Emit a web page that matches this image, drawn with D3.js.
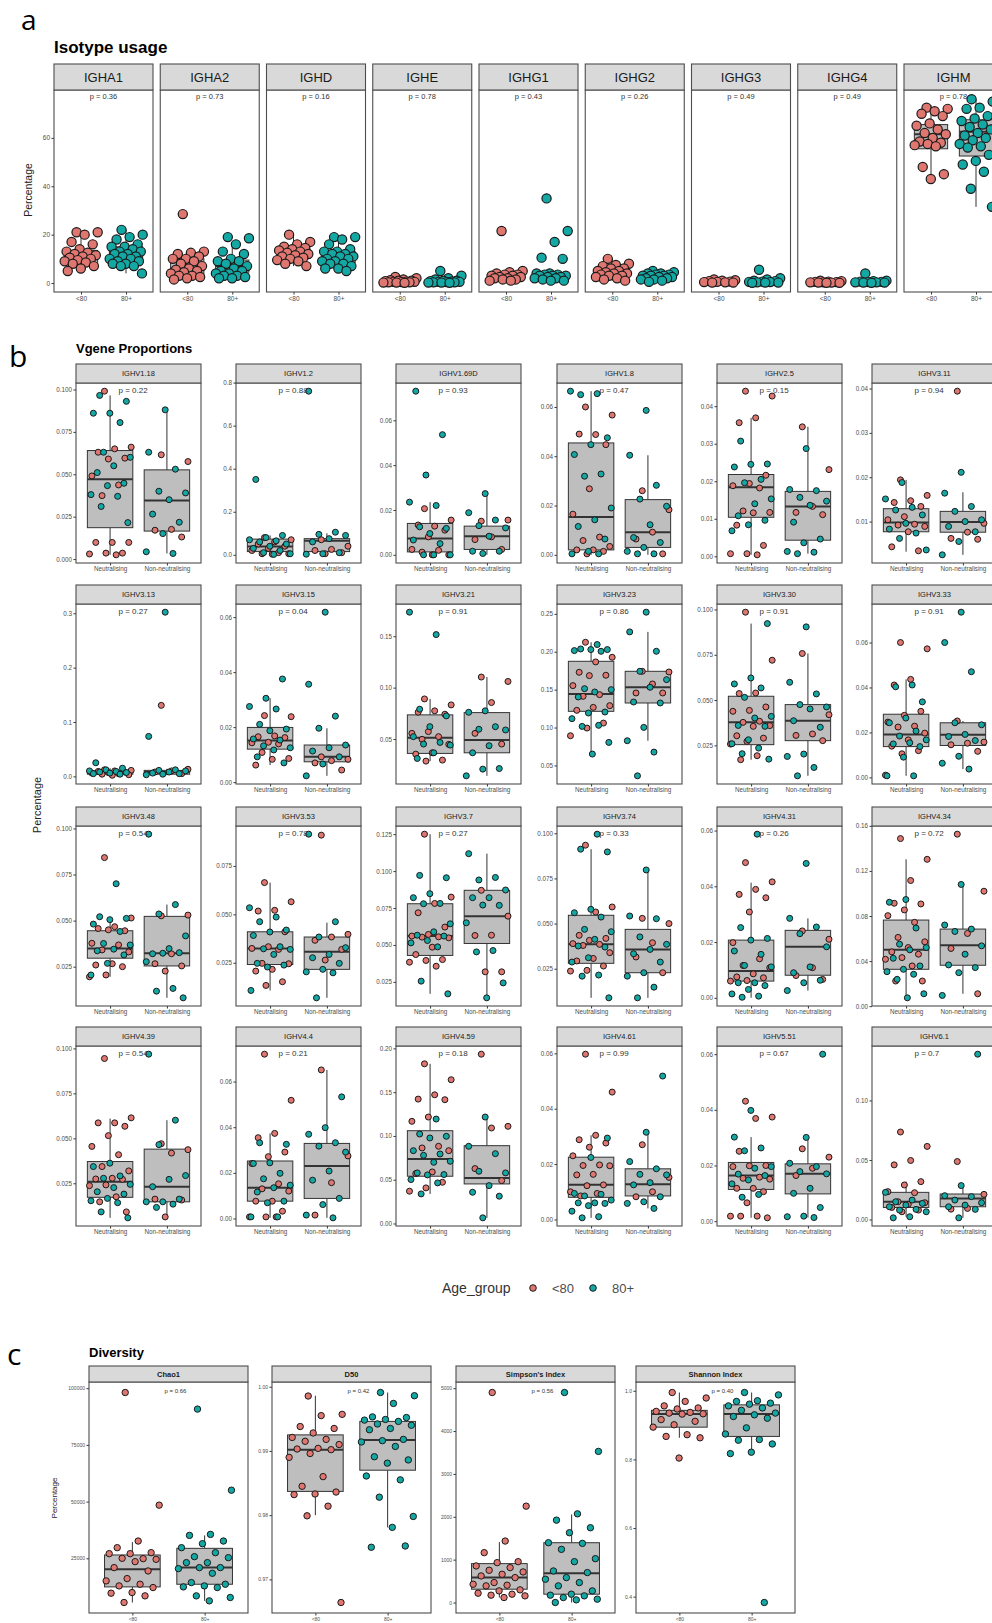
<!DOCTYPE html>
<html>
<head>
<meta charset="utf-8">
<script src="https://cdn.jsdelivr.net/npm/d3@7"></script>
<style>
body { margin: 0; background: #fff; }
svg { display: block; font-family: "Liberation Sans", Arial, sans-serif; }
</style>
</head>
<body>
<div id="chart"></div>
<script>
// ---------- a: isotype usage ----------
const isotypes = ["IGHA1", "IGHA2", "IGHD", "IGHE", "IGHG1", "IGHG2", "IGHG3", "IGHG4", "IGHM"];
const isoP = ["0.36", "0.73", "0.16", "0.78", "0.43", "0.26", "0.49", "0.49", "0.78"];
const isoTicks = ["0", "20", "40", "60"];
const isoYoung = [
    [21, 21, 20, 17, 16, 14, 13, 12.5, 12, 11.5, 11, 10.5, 10, 9.5, 9, 8.5, 8, 7, 6, 5],
    [28.5, 13, 12.5, 12, 11, 10, 10, 9, 8, 7, 6, 5.5, 5, 4.5, 4, 3, 3, 2.5, 2, 1.5],
    [20, 17, 16, 15, 14.5, 14, 13.5, 13, 12.5, 12, 11.5, 11, 10.5, 10, 9.5, 9, 8, 7],
    [2.5, 2, 1.5, 1.2, 1, 1, 0.8, 0.6, 0.5, 0.5, 0.4, 0.3, 0.3, 0.2, 0.2, 0.1],
    [21.5, 5, 4.5, 4, 3.5, 3.5, 3, 3, 2.5, 2.5, 2, 2, 1.5, 1.5, 1, 1],
    [10, 8, 7.5, 7, 6, 6, 5, 5, 4.5, 4, 4, 3.5, 3, 3, 2.5, 2, 1.5, 1],
    [1.5, 1.2, 1, 0.8, 0.6, 0.5, 0.4, 0.3, 0.2, 0.2],
    [1, 0.8, 0.6, 0.5, 0.4, 0.3, 0.3, 0.2, 0.2, 0.1, 0.1],
    [72.5, 72, 71, 70, 69, 66, 65, 63.5, 62, 61.5, 60, 58.5, 58, 57.5, 57, 56.5, 48, 45, 43]
];
const isoOld = [
    [22, 20, 19, 18, 16, 15, 15, 14, 13, 13, 12, 12, 11, 11, 10, 10, 9, 9, 8, 8, 7, 7, 4],
    [19, 18.5, 16, 13, 12, 10, 9, 9, 8, 7, 6, 5, 5, 4, 4, 3, 3, 2.5, 2, 2],
    [19, 19, 18, 16, 14, 13, 13, 12, 12, 11, 11, 10, 10, 9, 9, 8, 8, 7, 6, 6, 5],
    [5, 3, 2, 1.5, 1, 1, 0.8, 0.6, 0.5, 0.5, 0.4, 0.3, 0.3, 0.2, 0.2, 0.1],
    [35, 21.5, 17, 10.5, 10, 4, 4, 3.5, 3.5, 3, 3, 3, 2.5, 2.5, 2, 2, 1.5, 1, 1],
    [5, 4.5, 4, 4, 3.5, 3.5, 3, 3, 3, 2.5, 2.5, 2, 2, 1.5, 1.5, 1, 0.5],
    [5.5, 2, 1.5, 1, 0.8, 0.6, 0.5, 0.4, 0.3, 0.2, 0.2, 0.1],
    [4, 1, 0.8, 0.6, 0.5, 0.4, 0.3, 0.3, 0.2, 0.2, 0.1],
    [76, 75, 72.5, 72, 69, 68, 67, 65.5, 64.5, 63.5, 62, 61, 60, 59, 57.5, 56.5, 56, 53, 50.5, 49, 46, 39, 31.5]
];
// box stats: [lower whisker, q1, median, q3, upper whisker]
const isoBoxYoung = [
    [4.5, 8, 11, 13.5, 21], [1.3, 4, 6, 10, 13.5], [7, 10.5, 12.5, 14, 20], [0.1, 0.3, 0.6, 1.2, 2.5],
    [1, 1.5, 2.5, 3.5, 5], [1, 2.5, 4, 6.5, 10], [0.2, 0.3, 0.5, 0.9, 1.5], [0.1, 0.2, 0.3, 0.6, 1],
    [45, 55.5, 61.5, 65.5, 73.5]
];
const isoBoxOld = [
    [4, 8.5, 11.5, 15, 22], [2, 4.5, 7, 9.5, 16], [5, 8.5, 11, 13, 19], [0.1, 0.3, 0.5, 1, 2],
    [1, 2, 2.8, 3.8, 5], [0.5, 1.5, 2.8, 3.8, 5], [0.1, 0.3, 0.5, 1, 2], [0.1, 0.2, 0.35, 0.6, 1],
    [31.5, 52.5, 62.5, 67.5, 76]
];

// ---------- b: V gene proportions ----------
const vgenes = ["IGHV1.18", "IGHV1.2", "IGHV1.69D", "IGHV1.8", "IGHV2.5", "IGHV3.11",
    "IGHV3.13", "IGHV3.15", "IGHV3.21", "IGHV3.23", "IGHV3.30", "IGHV3.33",
    "IGHV3.48", "IGHV3.53", "IGHV3.7", "IGHV3.74", "IGHV4.31", "IGHV4.34",
    "IGHV4.39", "IGHV4.4", "IGHV4.59", "IGHV4.61", "IGHV5.51", "IGHV6.1"];
const vgeneP = ["0.22", "0.88", "0.93", "0.47", "0.15", "0.94",
    "0.27", "0.04", "0.91", "0.86", "0.91", "0.91",
    "0.54", "0.78", "0.27", "0.33", "0.26", "0.72",
    "0.54", "0.21", "0.18", "0.99", "0.67", "0.7"];
const vgeneTicks = [
    ["0.000", "0.025", "0.050", "0.075", "0.100"], ["0.0", "0.2", "0.4", "0.6", "0.8"],
    ["0.00", "0.02", "0.04", "0.06"], ["0.00", "0.02", "0.04", "0.06"],
    ["0.00", "0.01", "0.02", "0.03", "0.04"], ["0.01", "0.02", "0.03", "0.04"],
    ["0.0", "0.1", "0.2", "0.3"], ["0.00", "0.02", "0.04", "0.06"],
    ["0.05", "0.10", "0.15"], ["0.05", "0.10", "0.15", "0.20", "0.25"],
    ["0.025", "0.050", "0.075", "0.100"], ["0.00", "0.02", "0.04", "0.06"],
    ["0.025", "0.050", "0.075", "0.100"], ["0.025", "0.050", "0.075"],
    ["0.025", "0.050", "0.075", "0.100", "0.125"], ["0.025", "0.050", "0.075", "0.100"],
    ["0.00", "0.02", "0.04", "0.06"], ["0.00", "0.04", "0.08", "0.12", "0.16"],
    ["0.025", "0.050", "0.075", "0.100"], ["0.00", "0.02", "0.04", "0.06"],
    ["0.00", "0.05", "0.10", "0.15", "0.20"], ["0.00", "0.02", "0.04", "0.06"],
    ["0.00", "0.02", "0.04", "0.06"], ["0.00", "0.05", "0.10"]
];
const neutYoung = [
    [0.099, 0.066, 0.065, 0.063, 0.0595, 0.059, 0.049, 0.0437, 0.0374, 0.0098, 0.0098, 0.0098, 0.0035, 0.0035, 0.003, 0.0025],
    [0.08, 0.07, 0.06, 0.05, 0.04, 0.03, 0.02, 0.01, 0.005, 0.005, 0.003],
    [0.0206, 0.0155, 0.0128, 0.0133, 0.011, 0.008, 0.0024, 0.002, 0.0012, 0, 0],
    [0.060, 0.0567, 0.0488, 0.049, 0.0447, 0.0268, 0.0165, 0.0072, 0.0058, 0.0034, 0.002, 0.002, 0.0014, 0.0004],
    [0.044, 0.0427, 0.0369, 0.0356, 0.0216, 0.0194, 0.0188, 0.0182, 0.0121, 0.0117, 0.0116, 0.0083, 0.0029, 0.0007, 0.0007, 0.0004],
    [0.0194, 0.0159, 0.0147, 0.0143, 0.0134, 0.0111, 0.0104, 0.0094, 0.0092, 0.0089, 0.0077, 0.0043, 0.0034],
    [0.012, 0.011, 0.01, 0.009, 0.008, 0.007, 0.006, 0.005, 0.004, 0.003, 0.002],
    [0.0242, 0.0238, 0.0168, 0.0165, 0.0162, 0.0145, 0.0143, 0.0139, 0.0108, 0.0086, 0.0083, 0.0062],
    [0.089, 0.0832, 0.0774, 0.0761, 0.0741, 0.0572, 0.0555, 0.0523, 0.0497, 0.0448, 0.0366, 0.0353, 0.0295, 0.0285],
    [0.2125, 0.1927, 0.1866, 0.1729, 0.169, 0.1685, 0.1553, 0.1434, 0.1412, 0.1289, 0.1266, 0.1227, 0.1059, 0.0993, 0.0892],
    [0.0985, 0.072, 0.0539, 0.0536, 0.0462, 0.0443, 0.0438, 0.0383, 0.0377, 0.0359, 0.0355, 0.0303, 0.029, 0.0272, 0.0257, 0.0193, 0.0171],
    [0.06, 0.0572, 0.0436, 0.0411, 0.0294, 0.0276, 0.0246, 0.0228, 0.0224, 0.0197, 0.0167, 0.0139, 0.0119, 0.0105, 0.001],
    [0.0842, 0.0514, 0.0467, 0.0457, 0.0445, 0.045, 0.0377, 0.0368, 0.0341, 0.033, 0.0266, 0.0259, 0.025, 0.0205, 0.0195],
    [0.0664, 0.0565, 0.0521, 0.0517, 0.041, 0.0333, 0.0324, 0.0319, 0.0247, 0.0245, 0.0216, 0.0207, 0.0152, 0.0133],
    [0.125, 0.0824, 0.0781, 0.0718, 0.0621, 0.0571, 0.056, 0.0555, 0.0553, 0.0548, 0.0485, 0.0435, 0.0401, 0.0395, 0.0383, 0.0356],
    [0.0934, 0.0592, 0.0564, 0.0435, 0.0418, 0.0407, 0.0389, 0.0385, 0.0379, 0.0339, 0.0307, 0.0293, 0.0265, 0.0241, 0.0237],
    [0.0485, 0.0416, 0.0389, 0.0371, 0.0359, 0.0308, 0.0198, 0.014, 0.0116, 0.0108, 0.0086, 0.0075, 0.0072, 0.0062, 0.006],
    [0.1487, 0.1303, 0.1115, 0.0913, 0.0907, 0.0854, 0.0803, 0.0744, 0.061, 0.0571, 0.052, 0.0482, 0.0461, 0.0431, 0.0416, 0.0357, 0.0223, 0.0223],
    [0.0944, 0.0614, 0.0586, 0.0586, 0.0567, 0.0515, 0.0455, 0.0409, 0.0343, 0.0319, 0.0278, 0.0274, 0.0272, 0.0241, 0.0237, 0.0175, 0.0147, 0.0091],
    [0.072, 0.0518, 0.0373, 0.0354, 0.0291, 0.0271, 0.0241, 0.0152, 0.013, 0.012, 0.0076, 0.0076, 0.0032, 0.0007, 0.0007, 0.0007],
    [0.1824, 0.1642, 0.147, 0.1421, 0.1414, 0.1216, 0.1167, 0.0882, 0.0863, 0.0832, 0.0589, 0.057, 0.0471, 0.0407, 0.0369],
    [0.0597, 0.046, 0.0304, 0.0288, 0.0276, 0.0261, 0.023, 0.0197, 0.0195, 0.0194, 0.0163, 0.0161, 0.0125, 0.0122, 0.01, 0.0094, 0.0085],
    [0.0431, 0.0374, 0.0369, 0.0251, 0.02, 0.0199, 0.0196, 0.0158, 0.0154, 0.0151, 0.0118, 0.0118, 0.0106, 0.0066, 0.0018, 0.0018, 0.0018, 0.0012],
    [0.0735, 0.0614, 0.0496, 0.0459, 0.0318, 0.029, 0.0234, 0.0225, 0.0149, 0.0141, 0.0127, 0.0101, 0.0079, 0.0065]
];
const neutOld = [
    [0.0965, 0.093, 0.086, 0.086, 0.0805, 0.063, 0.060, 0.055, 0.051, 0.0447, 0.0433, 0.038, 0.037, 0.031, 0.0215],
    [0.35, 0.09, 0.08, 0.07, 0.065, 0.06, 0.05, 0.04, 0.03, 0.02, 0.01, 0.005, 0.002],
    [0.073, 0.0536, 0.0356, 0.0235, 0.022, 0.0125, 0.0118, 0.0095, 0.0066, 0.005, 0, 0, 0],
    [0.0664, 0.0654, 0.065, 0.0475, 0.0447, 0.0407, 0.0328, 0.0319, 0.019, 0.0142, 0.0115, 0.0064, 0.0014, 0.0004, 0.0004],
    [0.0307, 0.0246, 0.0245, 0.0238, 0.0205, 0.0196, 0.0153, 0.014, 0.0108, 0.0096, 0.0084, 0.0068],
    [0.0188, 0.0151, 0.0132, 0.0126, 0.0115, 0.0096, 0.0083, 0.0074, 0.0062, 0.0036],
    [0.025, 0.015, 0.012, 0.01, 0.009, 0.008, 0.007, 0.006, 0.005, 0.004],
    [0.0375, 0.0305, 0.0275, 0.0266, 0.021, 0.0193, 0.0187, 0.0157, 0.0153, 0.0132, 0.0125, 0.0117, 0.0092, 0.007],
    [0.1734, 0.1516, 0.079, 0.0725, 0.062, 0.0523, 0.0467, 0.0451, 0.0441, 0.0366, 0.0311],
    [0.2095, 0.2037, 0.2029, 0.2029, 0.2015, 0.2006, 0.1513, 0.15, 0.1469, 0.1403, 0.1205, 0.1192, 0.1117, 0.1029, 0.1015, 0.0804, 0.065],
    [0.0922, 0.0622, 0.0589, 0.0567, 0.0515, 0.041, 0.0401, 0.036, 0.0355, 0.0281, 0.0259, 0.0235, 0.0204, 0.0174],
    [0.0411, 0.0403, 0.0336, 0.0264, 0.0243, 0.0206, 0.0184, 0.0167, 0.0154, 0.0149, 0.0137, 0.009, 0.0007, 0.0007],
    [0.07, 0.0521, 0.0512, 0.0505, 0.0481, 0.0441, 0.0376, 0.0368, 0.0345, 0.0336, 0.0314, 0.0268, 0.0205],
    [0.0534, 0.0486, 0.0462, 0.0419, 0.0409, 0.0391, 0.0333, 0.0322, 0.0319, 0.0293, 0.0247, 0.0238, 0.0228, 0.0107],
    [0.0971, 0.0955, 0.0847, 0.082, 0.0781, 0.0779, 0.0643, 0.0589, 0.0566, 0.056, 0.053, 0.0514, 0.0487, 0.0255, 0.0169],
    [0.0995, 0.0912, 0.0897, 0.0579, 0.056, 0.0536, 0.0468, 0.0455, 0.0413, 0.0376, 0.037, 0.0311, 0.0287, 0.0215, 0.0209, 0.0089],
    [0.0587, 0.0252, 0.0213, 0.0207, 0.0168, 0.0156, 0.0116, 0.0111, 0.0054, 0.0054, 0.0044, 0.003, 0.0014, 0.0006, 0.0002],
    [0.0946, 0.0922, 0.0693, 0.055, 0.052, 0.05, 0.0425, 0.0357, 0.0327, 0.0306, 0.0283, 0.0238, 0.011, 0.0074],
    [0.0362, 0.0343, 0.0291, 0.0278, 0.0244, 0.0226, 0.0203, 0.019, 0.0166, 0.0153, 0.0142, 0.0091, 0.0058],
    [0.0332, 0.0325, 0.0244, 0.0241, 0.0198, 0.0174, 0.0146, 0.0135, 0.0116, 0.0076, 0.0069, 0.0007, 0.0007],
    [0.1193, 0.1022, 0.0996, 0.0977, 0.0832, 0.0794, 0.0779, 0.0711, 0.0699, 0.0578, 0.0559, 0.0555, 0.0502, 0.0464, 0.0338],
    [0.0294, 0.0224, 0.0094, 0.0091, 0.0085, 0.007, 0.006, 0.006, 0.0058, 0.005, 0.003, 0.001, 0.0006],
    [0.0398, 0.0302, 0.0263, 0.0253, 0.0196, 0.019, 0.0169, 0.0164, 0.0148, 0.0134, 0.0096, 0.0086],
    [0.0228, 0.0163, 0.0149, 0.0135, 0.0121, 0.0107, 0.0085, 0.0079, 0.0065, 0.0023, 0.0014]
];
const nonYoung = [
    [0.0615, 0.0575, 0.0175, 0.017, 0.013],
    [0.07, 0.04, 0.025, 0.02, 0.01, 0.005],
    [0.015, 0.0155, 0.008, 0.0068, 0.0024],
    [0.026, 0.0183, 0.0092, 0.0064, 0.0004],
    [0.0345, 0.0231, 0.0133, 0.0117, 0.0111],
    [0.0394, 0.0096, 0.0076, 0.0062, 0.006],
    [0.1306, 0.013, 0.01, 0.008, 0.005],
    [0.0092, 0.0083, 0.0078, 0.007, 0.0044],
    [0.1103, 0.106, 0.0855, 0.0555, 0.0451],
    [0.1742, 0.1733, 0.1575, 0.1456, 0.1456],
    [0.0757, 0.0419, 0.0313, 0.0305, 0.0276],
    [0.0251, 0.0157, 0.0152, 0.0145, 0.0116],
    [0.0526, 0.053, 0.032, 0.0266, 0.0254, 0.0226],
    [0.0909, 0.0397, 0.0383, 0.0366, 0.0319, 0.0264],
    [0.087, 0.0695, 0.0566, 0.0564, 0.0318, 0.0318],
    [0.0529, 0.05, 0.0394, 0.0315, 0.0228],
    [0.024, 0.021, 0.0108, 0.008, 0.0066],
    [0.1526, 0.102, 0.0645, 0.0512, 0.011],
    [0.047, 0.0437, 0.0418, 0.0162, 0.0157, 0.0063],
    [0.0651, 0.0274, 0.0157, 0.0015],
    [0.1934, 0.111, 0.1091, 0.0627, 0.049],
    [0.027, 0.0152, 0.01, 0.0082],
    [0.026, 0.023, 0.019, 0.0164],
    [0.0487, 0.0211, 0.0093, 0.0087]
];
const nonOld = [
    [0.088, 0.063, 0.053, 0.040, 0.039, 0.035, 0.0265, 0.0217, 0.015, 0.0043, 0.0033],
    [0.76, 0.105, 0.095, 0.09, 0.075, 0.06, 0.01, 0.005, 0.003],
    [0.0273, 0.0188, 0.0155, 0.013, 0.012, 0.0083, 0.0016, 0.0016, 0.0006],
    [0.0586, 0.0404, 0.0282, 0.0226, 0.0197, 0.0122, 0.007, 0.005, 0.003, 0.0014, 0.0004, 0.0004],
    [0.0287, 0.0178, 0.0175, 0.0157, 0.0147, 0.0136, 0.0091, 0.0046, 0.0036, 0.0013, 0.0011, 0.0007],
    [0.0211, 0.0164, 0.0134, 0.0123, 0.0104, 0.01, 0.0089, 0.0077, 0.0055, 0.0025],
    [0.302, 0.0735, 0.012, 0.011, 0.01, 0.008, 0.006, 0.005, 0.004, 0.003],
    [0.0618, 0.0356, 0.024, 0.0196, 0.0135, 0.0125, 0.0113, 0.0092, 0.0066, 0.0023],
    [0.0774, 0.076, 0.062, 0.0595, 0.0588, 0.0435, 0.0366, 0.0213, 0.0207, 0.0142],
    [0.2522, 0.2262, 0.2006, 0.1742, 0.1632, 0.1531, 0.1337, 0.1324, 0.1002, 0.0826, 0.0676, 0.0363],
    [0.0904, 0.0598, 0.0534, 0.0475, 0.0462, 0.0451, 0.0386, 0.035, 0.0202, 0.0189, 0.0128, 0.0082],
    [0.0735, 0.06, 0.047, 0.0243, 0.0234, 0.0191, 0.0182, 0.0164, 0.0094, 0.0063, 0.0037],
    [0.0969, 0.0587, 0.0536, 0.0417, 0.0348, 0.032, 0.0326, 0.0323, 0.0277, 0.0132, 0.0117, 0.0081],
    [0.0914, 0.0462, 0.0383, 0.0328, 0.0293, 0.0276, 0.0247, 0.0216, 0.0203, 0.0198, 0.0069],
    [0.1118, 0.0957, 0.094, 0.0872, 0.082, 0.082, 0.0768, 0.077, 0.065, 0.0462, 0.0453, 0.0243, 0.0142],
    [0.0797, 0.0542, 0.0527, 0.0426, 0.0385, 0.0357, 0.0333, 0.0287, 0.0228, 0.0209, 0.0148, 0.0089],
    [0.0482, 0.0285, 0.0254, 0.023, 0.0183, 0.0111, 0.009, 0.0063, 0.0054, 0.0026],
    [0.108, 0.072, 0.0684, 0.0663, 0.0535, 0.0461, 0.0366, 0.0342, 0.0297, 0.0095],
    [0.0968, 0.0601, 0.0465, 0.0293, 0.0272, 0.0231, 0.0162, 0.0147, 0.0147, 0.0134, 0.0116],
    [0.0533, 0.0398, 0.0369, 0.0332, 0.0317, 0.0291, 0.0208, 0.0168, 0.0088, 0.0061, 0.0015, 0.0003],
    [0.1216, 0.0882, 0.0798, 0.0597, 0.0578, 0.0433, 0.0357, 0.0312, 0.0065],
    [0.0518, 0.0315, 0.0209, 0.0183, 0.0163, 0.0161, 0.0133, 0.0125, 0.0082, 0.0064, 0.0058, 0.004],
    [0.06, 0.0301, 0.0208, 0.0196, 0.0178, 0.017, 0.0118, 0.01, 0.0049, 0.0018, 0.0016, 0.0013],
    [0.1389, 0.0285, 0.02, 0.0192, 0.0163, 0.0141, 0.0121, 0.0107, 0.0085, 0.0014]
];
const neutBox = [
    [0.0025, 0.0185, 0.047, 0.064, 0.0965], [0, 0.015, 0.039, 0.073, 0.09], [0, 0.0013, 0.0073, 0.014, 0.0235],
    [0, 0.002, 0.0153, 0.0454, 0.0664], [0.0004, 0.0104, 0.0184, 0.0218, 0.0369], [0.0032, 0.0077, 0.0098, 0.0129, 0.0194],
    [0.001, 0.004, 0.007, 0.01, 0.015], [0.0062, 0.012, 0.0151, 0.0199, 0.0305], [0.0285, 0.036, 0.0513, 0.0735, 0.089],
    [0.065, 0.1214, 0.1443, 0.1874, 0.2125], [0.0171, 0.0254, 0.0377, 0.0521, 0.0922], [0.0007, 0.0137, 0.0191, 0.0281, 0.0436],
    [0.0195, 0.0296, 0.0348, 0.0445, 0.0518], [0.0107, 0.0241, 0.0324, 0.041, 0.0664], [0.0169, 0.0429, 0.056, 0.0779, 0.125],
    [0.0089, 0.028, 0.0385, 0.0546, 0.0912], [0, 0.006, 0.0096, 0.0207, 0.0413], [0.0074, 0.0327, 0.05, 0.0764, 0.1303],
    [0.0058, 0.0172, 0.0259, 0.0371, 0.061], [0.0003, 0.0076, 0.0135, 0.0252, 0.0373], [0.0338, 0.054, 0.0737, 0.106, 0.1824],
    [0.0006, 0.008, 0.0125, 0.0225, 0.0304], [0.0012, 0.0114, 0.0164, 0.0211, 0.0302], [0.0023, 0.0101, 0.0149, 0.0228, 0.0318]
];
const nonBox = [
    [0.0033, 0.0165, 0.0345, 0.0526, 0.088], [0, 0.015, 0.065, 0.075, 0.1], [0, 0.0024, 0.0083, 0.0128, 0.0273],
    [0, 0.003, 0.0092, 0.0224, 0.0404], [0.0007, 0.0043, 0.0133, 0.0173, 0.0345], [0.0025, 0.0076, 0.0099, 0.0123, 0.0166],
    [0.002, 0.004, 0.008, 0.011, 0.014], [0.0023, 0.0074, 0.0092, 0.0135, 0.0196], [0.0142, 0.0366, 0.049, 0.0757, 0.1103],
    [0.0826, 0.1324, 0.1531, 0.1742, 0.2262], [0.0082, 0.0276, 0.0386, 0.0475, 0.0757], [0.0037, 0.0142, 0.019, 0.0243, 0.0251],
    [0.0081, 0.0254, 0.0323, 0.0523, 0.0587], [0.0069, 0.0216, 0.0307, 0.0383, 0.0457], [0.0142, 0.051, 0.0695, 0.087, 0.1118],
    [0.0089, 0.0228, 0.0357, 0.0468, 0.0797], [0.0026, 0.0081, 0.0183, 0.0242, 0.0285], [0.011, 0.0363, 0.0541, 0.0684, 0.108],
    [0.0063, 0.0147, 0.0231, 0.044, 0.0601], [0.0003, 0.0088, 0.023, 0.0329, 0.0651], [0.0065, 0.0452, 0.0521, 0.0889, 0.1216],
    [0.004, 0.0085, 0.0127, 0.0183, 0.0315], [0.0013, 0.0098, 0.017, 0.0206, 0.0301], [0.0014, 0.0107, 0.0177, 0.0214, 0.0285]
];

// ---------- c: diversity ----------
const divMetrics = ["Chao1", "D50", "Simpson's Index", "Shannon Index"];
const divP = ["0.66", "0.42", "0.56", "0.40"];
const divTicks = [
    ["25000", "50000", "75000", "100000"],
    ["0.97", "0.98", "0.99", "1.00"],
    ["0", "1000", "2000", "3000", "4000", "5000"],
    ["0.4", "0.6", "0.8", "1.0"]
];
const divYoung = [
    [98100, 48440, 32620, 29690, 27490, 27050, 27050, 24850, 25000, 24560, 23535, 20900, 19430, 16060, 15040, 13570, 12840, 12110, 9910, 9620, 8450, 5520],
    [0.99855, 0.9957, 0.9955, 0.9938, 0.9935, 0.9928, 0.9921, 0.9918, 0.9915, 0.991, 0.9904, 0.9903, 0.9902, 0.9896, 0.989, 0.986, 0.9845, 0.9836, 0.9833, 0.9832, 0.9814, 0.9799, 0.9664],
    [4900, 2248, 1434, 1163, 953, 930, 853, 814, 752, 713, 659, 620, 581, 465, 426, 403, 388, 295, 271, 217, 194, 171, 155, 116],
    [0.995, 0.979, 0.969, 0.956, 0.95, 0.947, 0.94, 0.937, 0.935, 0.933, 0.932, 0.916, 0.911, 0.901, 0.894, 0.872, 0.867, 0.863, 0.804]
];
const divOld = [
    [90780, 55030, 35550, 35110, 32620, 31450, 29690, 27490, 25730, 25290, 23100, 23100, 20900, 20900, 20460, 18410, 14300, 13570, 12840, 12400, 12110, 8450, 7720, 6250],
    [0.9991, 0.9986, 0.9974, 0.9953, 0.9952, 0.9949, 0.9948, 0.9946, 0.9942, 0.994, 0.9935, 0.9933, 0.9918, 0.9916, 0.9914, 0.9907, 0.9891, 0.9886, 0.9881, 0.9861, 0.9855, 0.9828, 0.9798, 0.9781, 0.975, 0.9752],
    [4900, 3526, 2069, 1922, 1744, 1628, 1395, 1380, 1240, 1023, 953, 736, 698, 581, 543, 465, 388, 271, 194, 171, 155, 116, 78, 62, 0],
    [0.995, 0.988, 0.971, 0.969, 0.964, 0.961, 0.956, 0.95, 0.943, 0.935, 0.93, 0.925, 0.92, 0.892, 0.874, 0.858, 0.856, 0.845, 0.821, 0.817, 0.383]
];
const divBoxYoung = [
    [5520, 12400, 20170, 26470, 32180], [0.98, 0.9837, 0.9902, 0.9925, 0.9986],
    [116, 310, 581, 907, 1410], [0.863, 0.894, 0.932, 0.943, 0.995]
];
const divBoxOld = [
    [6250, 13570, 20900, 29400, 35100], [0.9781, 0.987, 0.9917, 0.9946, 0.9991],
    [0, 194, 682, 1395, 2054], [0.817, 0.867, 0.932, 0.959, 0.995]
];

const ages = ["<80", "80+"];
const status = ["Neutralising", "Non-neutralising"];

const RED = "#e07670", TEAL = "#14a8a5", BOXFILL = "#bebebe", DARK = "#333333";
const ageColor = d3.scaleOrdinal().domain(ages).range([RED, TEAL]);

const svg = d3.select("#chart").append("svg")
    .attr("width", 992)
    .attr("height", 1623);

// fixed jitter pattern (golden-ratio spread), same for every group
function jit(i) {
    return ((i * 0.618034 + 0.37) % 1) - 0.5;
}

function padded(vals) {
    let e = d3.extent(vals);
    let p = (e[1] - e[0]) * 0.05;
    return [e[0] - p, e[1] + p];
}

function facet(o) {
    let g = svg.append("g").attr("transform", `translate(${o.x},${o.top})`);
    let body = g.append("g").attr("transform", `translate(0,${o.stripH})`);

    let x = d3.scalePoint().domain(o.groups).range([0, o.w]).padding(0.6);
    let y = d3.scaleLinear().domain(o.domain).range([o.bodyH, 0]);
    let u = x.step();

    body.append("rect").attr("width", o.w).attr("height", o.bodyH).attr("fill", "#fff");

    o.groups.forEach(function (grp, k) {
        let b = o.boxes[k], cx = x(grp), hw = u * o.boxW / 2;
        body.append("line").attr("x1", cx).attr("x2", cx).attr("y1", y(b[0])).attr("y2", y(b[1]))
            .attr("stroke", DARK).attr("stroke-width", 1);
        body.append("line").attr("x1", cx).attr("x2", cx).attr("y1", y(b[3])).attr("y2", y(b[4]))
            .attr("stroke", DARK).attr("stroke-width", 1);
        body.append("rect").attr("x", cx - hw).attr("y", y(b[3]))
            .attr("width", hw * 2).attr("height", Math.max(0.5, y(b[1]) - y(b[3])))
            .attr("fill", BOXFILL).attr("stroke", DARK).attr("stroke-width", 1);
        body.append("line").attr("x1", cx - hw).attr("x2", cx + hw).attr("y1", y(b[2])).attr("y2", y(b[2]))
            .attr("stroke", DARK).attr("stroke-width", 2);
    });

    body.selectAll("circle.pt")
        .data(o.points)
        .enter().append("circle")
        .attr("class", "pt")
        .attr("cx", function (d) { return x(d.g) + jit(d.i) * 0.76 * u; })
        .attr("cy", function (d) { return y(d.v); })
        .attr("r", o.r)
        .attr("fill", function (d) { return ageColor(d.age); })
        .attr("stroke", "#1a1a1a")
        .attr("stroke-width", o.r > 4 ? 1.2 : 1);

    body.append("text")
        .attr("x", o.pX * o.w)
        .attr("y", o.pY)
        .attr("dy", "0.35em")
        .attr("text-anchor", o.pAnchor)
        .attr("font-size", o.pFont)
        .attr("fill", "#333")
        .text("p = " + o.p);

    if (o.ticks) {
        let ya = body.append("g")
            .call(d3.axisLeft(y).tickValues(o.ticks.map(Number))
                .tickFormat(function (d, i) { return o.ticks[i]; })
                .tickSize(2.5).tickPadding(1.5));
        ya.select(".domain").remove();
        ya.selectAll("line").attr("stroke", DARK);
        ya.selectAll("text").attr("font-size", o.tickFont).attr("fill", "#4d4d4d")
            .attr("font-family", "'Liberation Sans', Arial, sans-serif");
    }

    let xa = body.append("g")
        .attr("transform", `translate(0,${o.bodyH})`)
        .call(d3.axisBottom(x).tickSize(2.5).tickPadding(1.5));
    xa.select(".domain").remove();
    xa.selectAll("line").attr("stroke", DARK);
    xa.selectAll("text").attr("font-size", o.tickFont).attr("fill", "#4d4d4d")
        .attr("font-family", "'Liberation Sans', Arial, sans-serif");

    body.append("rect").attr("width", o.w).attr("height", o.bodyH)
        .attr("fill", "none").attr("stroke", "#4d4d4d").attr("stroke-width", 1.1);

    g.append("rect").attr("width", o.w).attr("height", o.stripH)
        .attr("fill", "#d9d9d9").attr("stroke", "#4d4d4d").attr("stroke-width", 1.1);
    g.append("text")
        .attr("x", o.w / 2)
        .attr("y", o.stripH / 2)
        .attr("dy", "0.35em")
        .attr("text-anchor", "middle")
        .attr("font-size", o.stripFont)
        .attr("font-weight", o.stripBold ? "bold" : "normal")
        .attr("fill", "#1a1a1a")
        .text(o.title);
}

function groupPoints(groups, lists) {
    // lists: per group, array of [values, age]
    let pts = [];
    groups.forEach(function (grp, k) {
        let i = 0;
        lists[k].forEach(function (l) {
            l[0].forEach(function (v) {
                pts.push({g: grp, v: v, age: l[1], i: i++});
            });
        });
    });
    return pts;
}

function sectionLabel(txt, x, y, size) {
    svg.append("text").attr("x", x).attr("y", y)
        .attr("font-family", "'Open Sans', sans-serif")
        .attr("font-size", size).attr("fill", "#000").text(txt);
}

function sectionTitle(txt, x, y, size) {
    svg.append("text").attr("x", x).attr("y", y)
        .attr("font-size", size).attr("font-weight", "bold").attr("fill", "#000").text(txt);
}

function yTitle(x, y, size) {
    svg.append("text")
        .attr("transform", `translate(${x},${y}) rotate(-90)`)
        .attr("text-anchor", "middle")
        .attr("font-size", size)
        .attr("fill", "#222")
        .text("Percentage");
}

// ----- a -----
sectionLabel("a", 21, 30, 28);
sectionTitle("Isotype usage", 54, 53, 17);
yTitle(32, 190, 10.5);

let isoDomain = padded(d3.merge(isoYoung.concat(isoOld, isoBoxYoung, isoBoxOld)));
isotypes.forEach(function (name, i) {
    facet({
        x: 54 + i * 106.25, top: 64, w: 99, stripH: 26, bodyH: 202,
        title: name, stripFont: 13, stripBold: false,
        groups: ages,
        points: groupPoints(ages, [[[isoYoung[i], "<80"]], [[isoOld[i], "80+"]]]),
        boxes: [isoBoxYoung[i], isoBoxOld[i]],
        domain: isoDomain,
        ticks: i === 0 ? isoTicks : null,
        p: isoP[i], pX: 0.5, pY: 6, pAnchor: "middle", pFont: 7.5,
        r: 4.6, boxW: 0.74, tickFont: 6.5
    });
});

// ----- b -----
sectionLabel("b", 9, 367, 30);
sectionTitle("Vgene Proportions", 76, 353, 13);
yTitle(41, 805, 11);

const colX = [76, 236, 396, 557, 717, 872];
const rowTop = [364, 585, 807, 1027];
vgenes.forEach(function (name, i) {
    let all = d3.merge([neutYoung[i], neutOld[i], nonYoung[i], nonOld[i], neutBox[i], nonBox[i]]);
    facet({
        x: colX[i % 6], top: rowTop[Math.floor(i / 6)], w: 125, stripH: 19, bodyH: 180,
        title: name, stripFont: 7.5, stripBold: false,
        groups: status,
        points: groupPoints(status, [
            [[neutYoung[i], "<80"], [neutOld[i], "80+"]],
            [[nonYoung[i], "<80"], [nonOld[i], "80+"]]
        ]),
        boxes: [neutBox[i], nonBox[i]],
        domain: padded(all),
        ticks: vgeneTicks[i],
        p: vgeneP[i], pX: 0.34, pY: 7, pAnchor: "start", pFont: 8,
        r: 3, boxW: 0.8, tickFont: 6.3
    });
});

// legend
let legend = svg.append("g").attr("transform", "translate(442,1288)");
legend.append("text").attr("x", 0).attr("y", 0).attr("dy", "0.35em")
    .attr("font-size", 14).attr("fill", "#333").text("Age_group");
ages.forEach(function (a, k) {
    legend.append("circle").attr("cx", 91 + k * 60).attr("cy", 0).attr("r", 3.3)
        .attr("fill", ageColor(a)).attr("stroke", "#1a1a1a").attr("stroke-width", 1);
    legend.append("text").attr("x", 110 + k * 60).attr("y", 0).attr("dy", "0.35em")
        .attr("font-size", 13).attr("fill", "#4d4d4d").text(a);
});

// ----- c -----
sectionLabel("c", 7, 1365, 30);
sectionTitle("Diversity", 89, 1357, 13);
yTitle(57, 1498, 8);

const divX = [89, 272, 456, 636];
divMetrics.forEach(function (name, i) {
    let all = d3.merge([divYoung[i], divOld[i], divBoxYoung[i], divBoxOld[i]]);
    facet({
        x: divX[i], top: 1366, w: 159, stripH: 16, bodyH: 231,
        title: name, stripFont: 7.5, stripBold: true,
        groups: ages,
        points: groupPoints(ages, [[[divYoung[i], "<80"]], [[divOld[i], "80+"]]]),
        boxes: [divBoxYoung[i], divBoxOld[i]],
        domain: padded(all),
        ticks: divTicks[i],
        p: divP[i], pX: 0.475, pY: 9, pAnchor: "start", pFont: 6,
        r: 3.2, boxW: 0.77, tickFont: 5
    });
});
</script>
</body>
</html>
